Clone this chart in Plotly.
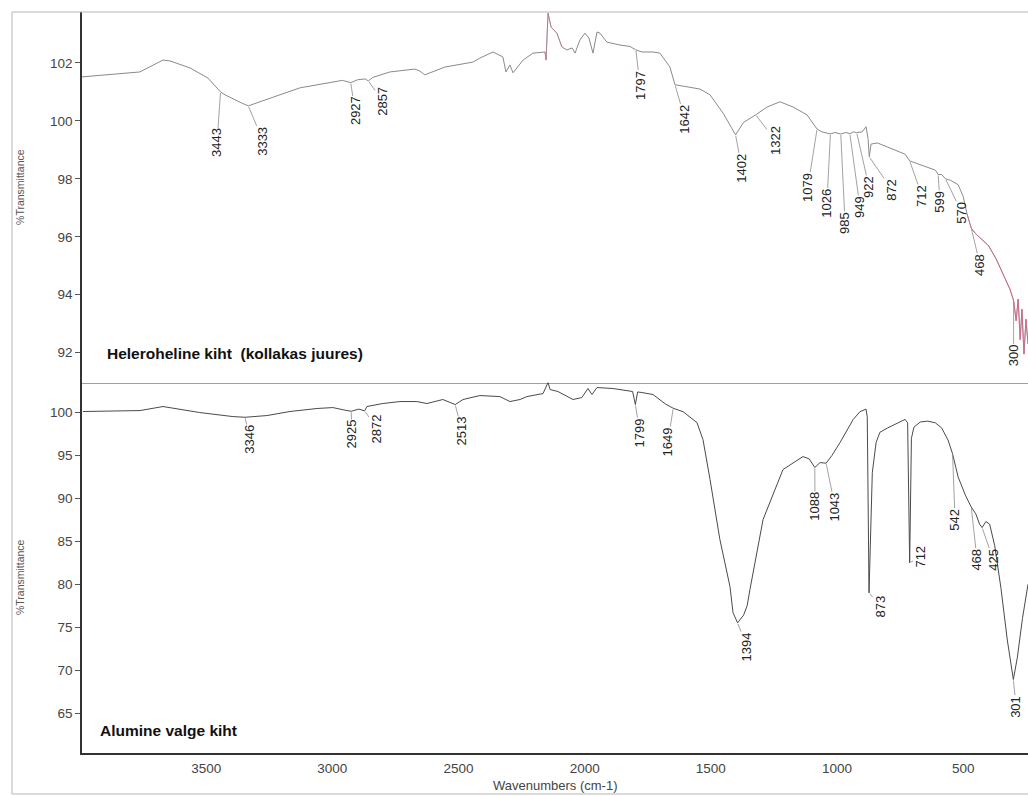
import numpy as np
import plotly.graph_objects as go
from plotly.subplots import make_subplots

# ---------------- upper layer: "Heleroheline kiht (kollakas juures)" ----------------
top_wavenumber = [3992, 3763, 3671, 3643, 3564, 3493, 3443, 3425, 3360, 3333, 3287, 3129,
                  2960, 2927, 2900, 2870, 2857, 2840, 2772, 2673, 2653, 2633, 2613, 2554,
                  2443, 2415, 2363, 2324, 2312, 2296, 2284, 2244, 2205, 2157, 2153, 2145,
                  2133, 2110, 2090, 2070, 2050, 2038, 2019, 1999, 1983, 1967, 1951, 1939,
                  1912, 1860, 1820, 1797, 1773, 1729, 1702, 1662, 1642, 1600, 1543, 1503,
                  1450, 1402, 1370, 1322, 1277, 1226, 1174, 1119, 1079, 1059, 1026, 1008,
                  985, 965, 949, 935, 922, 900, 885, 877, 872, 865, 840, 800, 760, 730,
                  712, 690, 650, 610, 599, 585, 570, 550, 520, 500, 485, 468, 450, 430,
                  400, 370, 340, 315, 300, 290, 282, 274, 267, 259, 251, 243]
top_transmittance = [101.52, 101.69, 102.10, 102.07, 101.83, 101.48, 101.00, 100.90, 100.62,
                     100.52, 100.66, 101.14, 101.40, 101.32, 101.42, 101.45, 101.38, 101.50,
                     101.69, 101.79, 101.72, 101.59, 101.66, 101.86, 102.03, 102.17, 102.38,
                     102.21, 101.69, 101.93, 101.66, 102.10, 102.34, 102.38, 102.10, 103.72,
                     103.24, 103.03, 102.55, 102.45, 102.52, 102.34, 102.79, 103.03, 102.86,
                     102.34, 103.07, 103.03, 102.72, 102.62, 102.57, 102.45, 102.38, 102.38,
                     102.34, 101.86, 101.25, 101.18, 101.10, 100.90, 100.25, 99.52, 99.95,
                     100.21, 100.48, 100.66, 100.48, 100.21, 99.72, 99.62, 99.55, 99.60,
                     99.55, 99.60, 99.56, 99.62, 99.60, 99.62, 99.80, 99.40, 98.76, 99.20,
                     99.24, 99.10, 98.95, 98.85, 98.62, 98.55, 98.45, 98.30, 98.15, 98.15,
                     98.00, 97.95, 97.80, 97.40, 96.80, 96.30, 96.10, 95.95, 95.70, 95.25,
                     94.70, 94.20, 93.80, 93.10, 93.85, 92.45, 93.50, 91.95, 93.15, 92.30]
top_peaks = [3443, 3333, 2927, 2857, 1797, 1642, 1402, 1322, 1079, 1026, 985, 949, 922,
             872, 712, 599, 570, 468, 300]

# ---------------- lower layer: "Alumine valge kiht" ----------------
bottom_wavenumber = [3988, 3762, 3671, 3604, 3525, 3394, 3346, 3259, 3168, 3061, 2998, 2942,
                     2925, 2895, 2872, 2863, 2800, 2732, 2665, 2625, 2562, 2513, 2482, 2415,
                     2336, 2296, 2256, 2229, 2165, 2145, 2137, 2106, 2046, 2011, 1987, 1971,
                     1951, 1888, 1810, 1799, 1790, 1773, 1729, 1680, 1649, 1610, 1555, 1531,
                     1503, 1464, 1424, 1412, 1394, 1370, 1356, 1345, 1293, 1214, 1135, 1110,
                     1088, 1067, 1043, 1020, 988, 936, 909, 885, 880, 873, 866, 860, 845,
                     830, 800, 760, 730, 720, 712, 705, 695, 670, 640, 610, 585, 560, 542,
                     520, 490, 468, 450, 435, 425, 410, 395, 375, 350, 325, 301, 285, 265, 243]
bottom_transmittance = [100.12, 100.23, 100.70, 100.35, 100.00, 99.53, 99.45, 99.65, 100.12,
                        100.47, 100.58, 100.23, 100.15, 100.40, 100.20, 100.70, 101.05, 101.28,
                        101.28, 101.05, 101.52, 100.93, 101.52, 101.98, 101.86, 101.28, 101.52,
                        101.86, 102.21, 103.50, 102.68, 102.45, 101.52, 101.75, 102.80, 102.10,
                        102.91, 102.80, 102.45, 100.93, 102.40, 102.33, 102.10, 101.00, 100.50,
                        100.10, 98.83, 96.85, 92.19, 85.20, 79.72, 76.69, 75.50, 76.40, 77.50,
                        79.37, 87.53, 93.36, 94.87, 94.60, 93.60, 94.17, 94.10, 95.00, 96.50,
                        99.18, 100.10, 100.40, 99.50, 79.00, 86.00, 93.00, 96.50, 97.70, 98.20,
                        98.80, 99.20, 98.80, 82.50, 97.00, 98.30, 98.90, 99.00, 98.80, 98.20,
                        96.80, 95.20, 92.50, 90.30, 89.00, 88.20, 87.00, 86.60, 87.30, 87.00,
                        84.50, 79.50, 73.50, 68.90, 71.50, 76.00, 80.00]
bottom_peaks = [3346, 2925, 2872, 2513, 1799, 1649, 1394, 1088, 1043, 873, 712, 542, 468, 425, 301]

# axis ticks
x_ticks = [3500, 3000, 2500, 2000, 1500, 1000, 500]
top_y_ticks = [92, 94, 96, 98, 100, 102]
bottom_y_ticks = [65, 70, 75, 80, 85, 90, 95, 100]

# where each peak label sits (axis units: wavenumber, %T of the label centre)
top_label_place = {
    3443: (3457, 99.24), 3333: (3275, 99.31), 2927: (2910, 100.34), 2857: (2799, 100.66),
    1797: (1781, 101.24), 1642: (1603, 100.07), 1402: (1377, 98.38), 1322: (1246, 99.34),
    1079: (1115, 97.72), 1026: (1040, 97.17), 985: (968, 96.48), 949: (909, 97.03),
    922: (873, 97.72), 872: (782, 97.62), 712: (663, 97.41), 599: (592, 97.21),
    570: (505, 96.83), 468: (433, 95.03), 300: (300, 91.9),
}
bottom_label_place = {
    3346: (3326, 96.85), 2925: (2922, 97.44), 2872: (2823, 98.14), 2513: (2486, 97.79),
    1799: (1781, 97.67), 1649: (1670, 96.62), 1394: (1357, 72.73), 1088: (1087, 89.04),
    1043: (1008, 89.04), 873: (826, 77.39), 712: (667, 83.22), 542: (532, 87.53),
    468: (445, 82.87), 425: (381, 82.87), 301: (290, 65.73),
}

X_RANGE = [3992, 243]
FONT = "Arial, Liberation Sans, sans-serif"

fig = make_subplots(rows=2, cols=1, shared_xaxes=True, vertical_spacing=0)

top_wn = np.array(top_wavenumber)
top_tr = np.array(top_transmittance)
bot_wn = np.array(bottom_wavenumber)
bot_tr = np.array(bottom_transmittance)

fig.add_trace(go.Scatter(x=top_wn, y=top_tr, mode="lines",
                         line=dict(color="#8a8a8a", width=1)), row=1, col=1)
# reddish tint on the noisy segments of the upper spectrum
tail = top_wn <= 485
fig.add_trace(go.Scatter(x=top_wn[tail], y=top_tr[tail], mode="lines",
                         line=dict(color="rgba(222,100,140,0.75)", width=1)), row=1, col=1)
mid = (top_wn <= 2157) & (top_wn >= 2090)
fig.add_trace(go.Scatter(x=top_wn[mid], y=top_tr[mid], mode="lines",
                         line=dict(color="rgba(210,120,150,0.55)", width=1)), row=1, col=1)

fig.add_trace(go.Scatter(x=bot_wn, y=bot_tr, mode="lines",
                         line=dict(color="#4a4a4a", width=1)), row=2, col=1)


def label_peaks(peaks, wn, tr, place, xref, yref):
    order = np.argsort(wn)
    for p in peaks:
        py = float(np.interp(p, wn[order], tr[order]))
        lx, ly = place[p]
        fig.add_annotation(x=p, y=py, xref=xref, yref=yref,
                           ax=lx, ay=ly, axref=xref, ayref=yref,
                           text=str(p), textangle=-90, showarrow=True,
                           arrowhead=0, arrowwidth=0.8, arrowcolor="#8a8a8a",
                           standoff=1, borderpad=0,
                           font=dict(family=FONT, size=13, color="#222"))


label_peaks(top_peaks, top_wn, top_tr, top_label_place, "x", "y")
label_peaks(bottom_peaks, bot_wn, bot_tr, bottom_label_place, "x2", "y2")

axis_font = dict(family=FONT, size=13.5, color="#444")

fig.update_xaxes(range=X_RANGE, showgrid=False, zeroline=False, tickvals=x_ticks,
                 tickfont=axis_font)
fig.update_xaxes(showline=True, linecolor="#a0a0a0", linewidth=1, showticklabels=False,
                 ticks="", row=1, col=1)
fig.update_xaxes(showline=True, linecolor="#333", linewidth=2, ticks="outside", ticklen=2,
                 tickcolor="rgba(0,0,0,0)", row=2, col=1)

fig.update_yaxes(showgrid=False, zeroline=False, showline=True, linecolor="#333",
                 linewidth=1.5, ticks="outside", ticklen=5, tickcolor="#555",
                 tickwidth=1, tickfont=axis_font)
fig.update_yaxes(range=[90.97, 103.76], tickvals=top_y_ticks, row=1, col=1)
fig.update_yaxes(range=[60.34, 103.5], tickvals=bottom_y_ticks, row=2, col=1)

# panel titles
fig.add_annotation(xref="paper", yref="paper", x=0.0243, y=0.5398, xanchor="left",
                   yanchor="middle", showarrow=False,
                   text="<b>Heleroheline kiht \u00a0(kollakas juures)</b>",
                   font=dict(family=FONT, size=15.5, color="#111"))
fig.add_annotation(xref="paper", yref="paper", x=0.0169, y=0.031, xanchor="left",
                   yanchor="middle", showarrow=False, text="<b>Alumine valge kiht</b>",
                   font=dict(family=FONT, size=15.5, color="#111"))

# axis titles
for yp in (0.764, 0.2375):
    fig.add_annotation(xref="paper", yref="paper", x=-0.0655, y=yp, showarrow=False,
                       xanchor="center", yanchor="middle",
                       textangle=-90, text="%Transmittance",
                       font=dict(family=FONT, size=10.5, color="#555"))
fig.add_annotation(xref="paper", yref="paper", x=0.5, y=-0.0445, showarrow=False,
                   xanchor="center", yanchor="middle", text="Wavenumbers (cm-1)",
                   font=dict(family=FONT, size=13, color="#444"))

# outer frame
frame = dict(color="#b5b5b5", width=1)
fig.add_shape(type="line", xref="paper", yref="paper", x0=-0.074, x1=1, y0=1, y1=1, line=frame)
fig.add_shape(type="line", xref="paper", yref="paper", x0=-0.074, x1=-0.074, y0=1,
              y1=-0.0553, line=frame)
fig.add_shape(type="line", xref="paper", yref="paper", x0=-0.074, x1=1, y0=-0.0553,
              y1=-0.0553, line=frame)

fig.update_layout(width=1028, height=796, showlegend=False,
                  margin=dict(l=82, r=0, t=12, b=43),
                  paper_bgcolor="white", plot_bgcolor="white")

fig.write_html("out.html")
